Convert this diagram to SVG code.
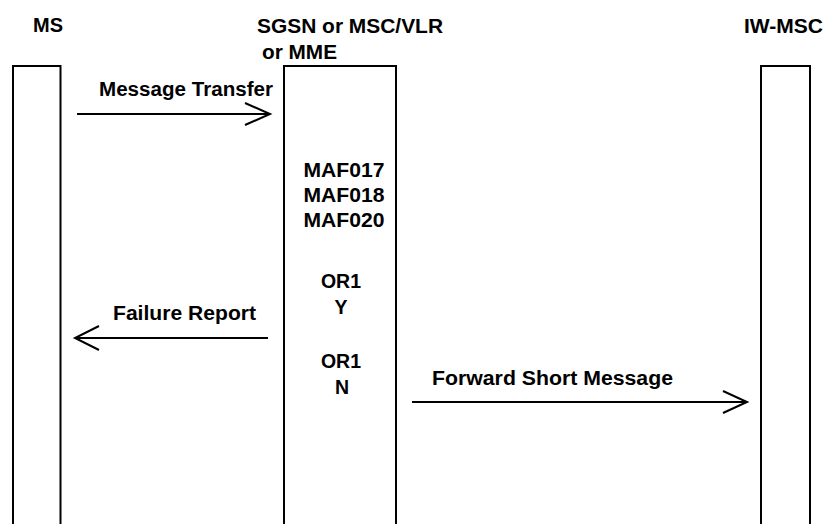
<svg xmlns="http://www.w3.org/2000/svg" width="827" height="524" viewBox="0 0 827 524">
<style>
  .t { font-family: "Liberation Sans", Arial, sans-serif; font-weight: bold; font-size: 19.5px; fill: #000; }
  .box { fill: #fff; stroke: #000; stroke-width: 2; }
  .ln { fill: none; stroke: #000; stroke-width: 2; }
</style>
<rect width="827" height="524" fill="#fff"/>
<g id="node-ms">
  <path class="box" d="M13,530 V66 H60.5 V530"/>
  <text class="t" x="33" y="32" textLength="30" lengthAdjust="spacingAndGlyphs">MS</text>
</g>
<g id="node-sgsn">
  <path class="box" d="M284,530 V66 H396 V530"/>
  <text class="t" x="257" y="33" textLength="186" lengthAdjust="spacingAndGlyphs">SGSN or MSC/VLR</text>
  <text class="t" x="262" y="59" textLength="75" lengthAdjust="spacingAndGlyphs">or MME</text>
  <g text-anchor="middle">
    <text class="t" x="344" y="177" textLength="81" lengthAdjust="spacingAndGlyphs">MAF017</text>
    <text class="t" x="344" y="202" textLength="81" lengthAdjust="spacingAndGlyphs">MAF018</text>
    <text class="t" x="344" y="227" textLength="81" lengthAdjust="spacingAndGlyphs">MAF020</text>
    <text class="t" x="341" y="288">OR1</text>
    <text class="t" x="341" y="314">Y</text>
    <text class="t" x="341" y="368">OR1</text>
    <text class="t" x="342" y="394">N</text>
  </g>
</g>
<g id="node-iwmsc">
  <path class="box" d="M761,530 V66 H810 V530"/>
  <text class="t" x="744" y="33" textLength="79" lengthAdjust="spacingAndGlyphs">IW-MSC</text>
</g>
<g id="connectors">
  <path class="ln" d="M77,114 H270 M245,103 L270,114 L245,125"/>
  <path class="ln" d="M268,338 H75 M99,326 L75,338 L99,350"/>
  <path class="ln" d="M412,402 H747 M723,391 L747,402 L723,413"/>
  <text class="t" x="99" y="96" textLength="174" lengthAdjust="spacingAndGlyphs">Message Transfer</text>
  <text class="t" x="113" y="320" textLength="143" lengthAdjust="spacingAndGlyphs">Failure Report</text>
  <text class="t" x="432" y="385" textLength="241" lengthAdjust="spacingAndGlyphs">Forward Short Message</text>
</g>
</svg>
